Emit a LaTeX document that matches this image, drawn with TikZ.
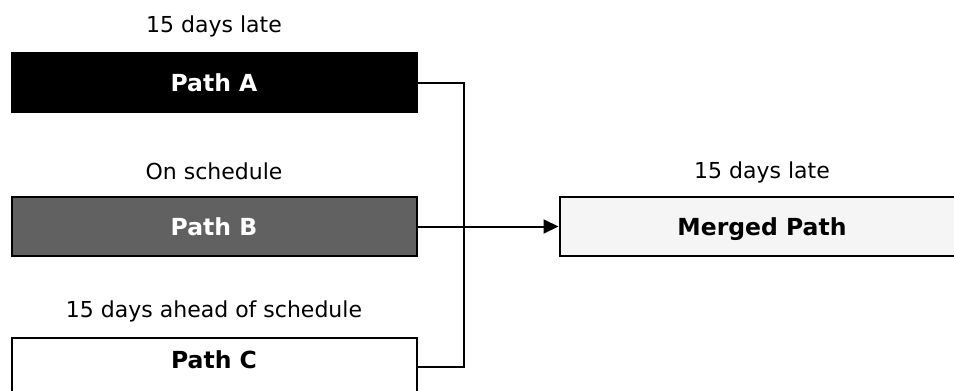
\documentclass[tikz,border=0pt]{standalone}
\usepackage{fontspec}
\setmainfont{DejaVu Sans}
\usetikzlibrary{arrows.meta, positioning}

\begin{document}
\begin{tikzpicture}[x=1pt, y=-1pt,
    pathbox/.style={draw=black, line width=2pt, minimum width=405pt, minimum height=59pt,
      inner sep=0pt, text height=17pt, text depth=0pt,
      font=\fontsize{23.5}{28}\selectfont\bfseries},
    status/.style={font=\fontsize{22}{26}\selectfont},
    link/.style={draw=black, line width=2pt}]
  \clip (0,0) rectangle (954,391);
  % the three input paths
  \node[pathbox, fill=black, text=white]   (pa) at (214,82.5)  {Path A};
  \node[pathbox, fill=black!62, text=white] (pb) at (214,226.5) {Path B};
  \node[pathbox, fill=white, text depth=14pt] (pc) at (214,367) {Path C};
  \node[pathbox, fill=black!4]             (mp) at (762,226.5) {Merged Path};
  % status above each box
  \node[status] (sa) at (214,26)  {15 days late};
  \node[status] (sb) at (214,171) {On schedule};
  \node[status] (sc) at (214,311) {15 days ahead of schedule};
  \node[status] (sm) at (762,172) {15 days late};
  % joining bus
  \coordinate (jn) at (464,226.5);
  \draw[link] (pa.east) -| (jn);
  \draw[link] (pc.east) -| (jn);
  \draw[link, -{Triangle[length=15pt, width=14pt]}] (pb.east) -- (mp.west);
\end{tikzpicture}
\end{document}
